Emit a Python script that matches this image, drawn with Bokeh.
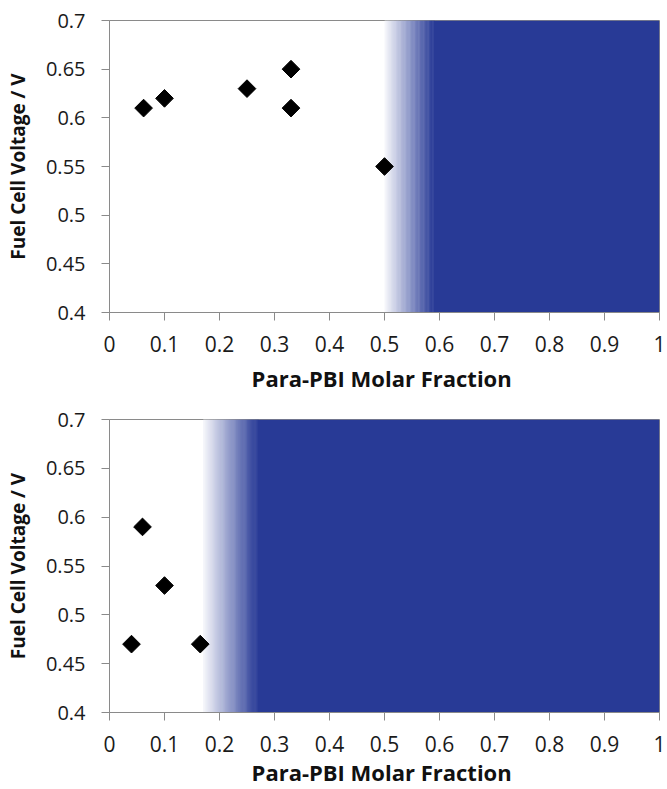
import numpy as np
from bokeh.plotting import figure
from bokeh.layouts import column
from bokeh.models import Range1d, FixedTicker
from bokeh.embed import file_html
from bokeh.resources import INLINE

# ---- data ----
top_x = [0.062, 0.10, 0.25, 0.33, 0.33, 0.50]
top_y = [0.61, 0.62, 0.63, 0.65, 0.61, 0.55]
bot_x = [0.04, 0.06, 0.10, 0.165]
bot_y = [0.47, 0.59, 0.53, 0.47]
top_region = [0.50, 0.59]   # gradient start / full colour from
bot_region = [0.17, 0.27]
x_ticks = [0, 0.1, 0.2, 0.3, 0.4, 0.5, 0.6, 0.7, 0.8, 0.9, 1.0]
x_tick_labels = ["0", "0.1", "0.2", "0.3", "0.4", "0.5", "0.6", "0.7", "0.8", "0.9", "1"]
y_ticks = [0.4, 0.45, 0.5, 0.55, 0.6, 0.65, 0.7]
y_tick_labels = ["0.4", "0.45", "0.5", "0.55", "0.6", "0.65", "0.7"]
x_title = "Para-PBI  Molar Fraction"
y_title = "Fuel Cell Voltage / V"

BLUE = (40, 58, 150)
AXIS_GRAY = "#8a8a8a"
FONT = "Open Sans"


def mix(t):
    r = int(round(255 + (BLUE[0] - 255) * t))
    g = int(round(255 + (BLUE[1] - 255) * t))
    b = int(round(255 + (BLUE[2] - 255) * t))
    return "#%02x%02x%02x" % (r, g, b)


def make_fig(h, bt, bb, bl, br, xs, ys, region, title_standoff):
    p = figure(width=667, height=h, output_backend="svg", toolbar_location=None,
               x_range=Range1d(0, 1), y_range=Range1d(0.4, 0.7),
               min_border_top=bt, min_border_bottom=bb,
               min_border_left=bl, min_border_right=br)
    p.grid.visible = False
    p.outline_line_color = AXIS_GRAY
    p.outline_line_width = 1
    p.background_fill_color = "white"
    p.border_fill_color = "white"

    # gradient band (opaque colour steps)
    n = 60
    edges = np.linspace(region[0], region[1], n + 1)
    ts = np.linspace(0.04, 1.0, n)
    colors = [mix(t) for t in ts]
    step = (region[1] - region[0]) / n
    p.quad(left=edges[:-1], right=edges[1:] + step * 0.6, bottom=0.4, top=0.7,
           fill_color=colors, line_color=None)
    p.quad(left=[region[1]], right=[1.0], bottom=0.4, top=0.7,
           fill_color=mix(1.0), line_color=None)

    p.scatter(xs, ys, marker="square", angle=np.pi / 4, size=12.5,
              fill_color="black", line_color="black")

    for ax in (p.xaxis[0], p.yaxis[0]):
        ax.axis_line_color = AXIS_GRAY
        ax.major_tick_line_color = AXIS_GRAY
        ax.major_tick_out = 8
        ax.major_tick_in = 0
        ax.minor_tick_line_color = None
        ax.major_label_text_font = FONT
        ax.major_label_text_color = "#1a1a1a"
        ax.axis_label_text_font = FONT
        ax.axis_label_text_font_style = "bold"
        ax.axis_label_text_color = "#111111"

    p.xaxis.major_label_text_font_size = "21px"
    p.yaxis.major_label_text_font_size = "20px"
    p.xaxis.axis_label_text_font_size = "22px"
    p.yaxis.axis_label_text_font_size = "19px"

    p.xaxis.ticker = FixedTicker(ticks=x_ticks)
    p.xaxis.major_label_overrides = dict(zip(x_ticks, x_tick_labels))
    p.yaxis.ticker = FixedTicker(ticks=y_ticks)
    p.yaxis.major_label_overrides = dict(zip(y_ticks, y_tick_labels))
    p.xaxis.axis_label = x_title
    p.yaxis.axis_label = y_title
    p.xaxis.major_label_standoff = 15
    p.yaxis.major_label_standoff = 16
    p.xaxis.axis_label_standoff = title_standoff
    p.yaxis.axis_label_standoff = 12
    return p


p1 = make_fig(395, 20, 82, 107, 8, top_x, top_y, top_region, 8)
p2 = make_fig(394, 24, 77, 109, 7, bot_x, bot_y, bot_region, 2)

layout = column(p1, p2, spacing=0)
open("out.html", "w").write(file_html(layout, INLINE))
